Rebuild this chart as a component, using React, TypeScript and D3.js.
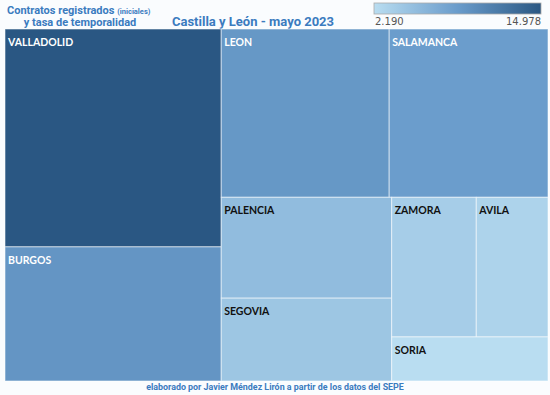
import { useEffect } from "react"
import * as d3 from "d3"

// provincias y contratos registrados (mayo 2023)
const provincias = ["VALLADOLID", "BURGOS", "LEON", "SALAMANCA", "PALENCIA", "SEGOVIA", "ZAMORA", "AVILA", "SORIA"]
const contratos = [14978, 9220, 8986, 8497, 5467, 4491, 3755, 3186, 2190]
const legendTicks = ["2.190", "14.978"]

const W = 550
const H = 395
const box = { x0: 5, y0: 29, x1: 548, y1: 381 }
const blue = "#3b7bbf"

export default function App() {
  useEffect(() => {
    document.body.style.margin = "0"
  }, [])

  const root = d3
    .hierarchy({ children: provincias.map((name, i) => ({ name, value: contratos[i] })) } as any)
    .sum((d: any) => d.value || 0)

  d3.treemap().tile(d3.treemapSquarify).size([box.x1 - box.x0, box.y1 - box.y0])(root as any)

  const minV = d3.min(contratos) as number
  const maxV = d3.max(contratos) as number
  const color = d3
    .scaleLinear<string>()
    .domain([minV, (minV + maxV) / 2, maxV])
    .range(["#b9ddf1", "#6a9ccb", "#2a5783"])

  const leaves = root.leaves() as any[]

  // legend
  const lg = { x: 374, y: 3, w: 167, h: 11 }
  const stops = d3.range(0, 1.0001, 0.1)

  return (
    <svg width={W} height={H} style={{ display: "block", background: "#fafcfe" }}>
      <defs>
        <linearGradient id="lg-grad" x1="0" x2="1" y1="0" y2="0">
          {stops.map((t) => (
            <stop key={t} offset={t} stopColor={color(minV + t * (maxV - minV))} />
          ))}
        </linearGradient>
      </defs>

      {/* titles */}
      <text x={7} y={13.5} fill={blue} fontFamily="Roboto" fontWeight="bold" fontSize={11}>
        Contratos registrados <tspan fontSize={7.5}>(iniciales)</tspan>
      </text>
      <text x={80} y={26} fill={blue} fontFamily="Roboto" fontWeight="bold" fontSize={11} textAnchor="middle">
        y tasa de temporalidad
      </text>
      <text x={253} y={26} fill={blue} fontFamily="Roboto" fontWeight="bold" fontSize={13} textAnchor="middle">
        Castilla y León - mayo 2023
      </text>

      {/* legend */}
      <rect x={lg.x} y={lg.y} width={lg.w} height={lg.h} fill="url(#lg-grad)" stroke="#aaa" strokeWidth={0.8} />
      <text x={lg.x + 1} y={25} fill="#555" fontFamily="DejaVu Sans" fontSize={10}>
        {legendTicks[0]}
      </text>
      <text x={lg.x + lg.w} y={25} fill="#555" fontFamily="DejaVu Sans" fontSize={10} textAnchor="end">
        {legendTicks[1]}
      </text>

      {/* treemap */}
      <g transform={`translate(${box.x0},${box.y0})`}>
        {leaves.map((d) => {
          const dark = d.value > 8000
          return (
            <g key={d.data.name}>
              <rect
                x={d.x0}
                y={d.y0}
                width={d.x1 - d.x0}
                height={d.y1 - d.y0}
                fill={color(d.value)}
                stroke="rgba(255,255,255,0.55)"
                strokeWidth={1}
              />
              <text
                x={d.x0 + 3}
                y={d.y0 + 17}
                fill={dark ? "#fff" : "#111"}
                fontFamily="Lato"
                fontWeight="bold"
                fontSize={10.5}
              >
                {d.data.name}
              </text>
            </g>
          )
        })}
      </g>

      {/* footer */}
      <text x={275} y={390} fill={blue} fontFamily="Roboto" fontWeight="bold" fontSize={8.9} textAnchor="middle">
        elaborado por Javier Méndez Lirón a partir de los datos del SEPE
      </text>
    </svg>
  )
}
